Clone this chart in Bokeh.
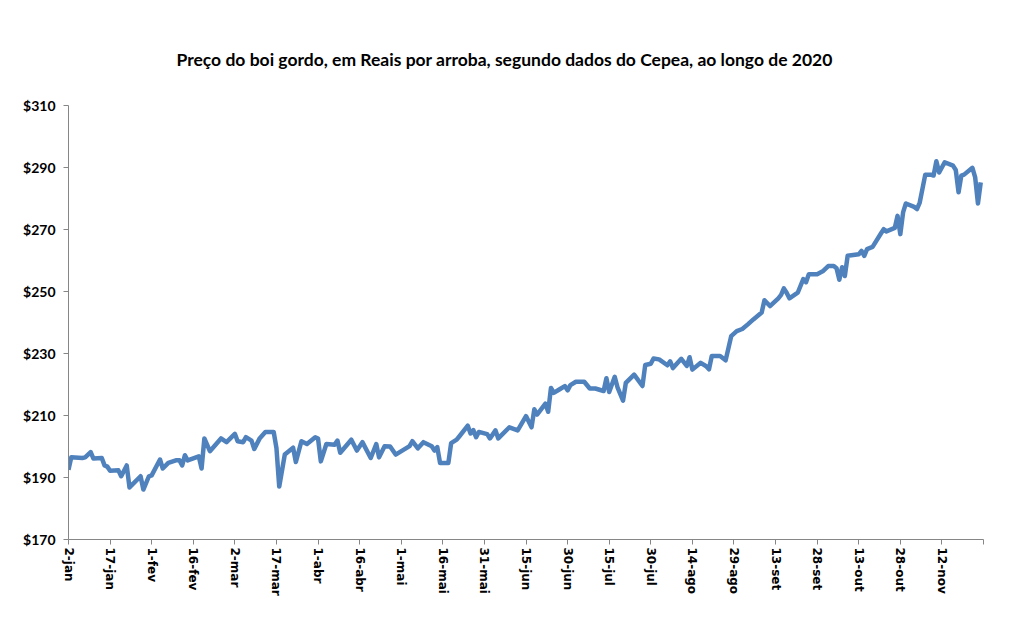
import pandas as pd
from bokeh.plotting import figure
from bokeh.models import Range1d, FixedTicker, PrintfTickFormatter, Title, ColumnDataSource
from bokeh.embed import file_html
from bokeh.resources import INLINE

title_text = "Preço do boi gordo, em Reais por arroba, segundo dados do Cepea, ao longo de 2020"

dates = [
    "2020-01-02", "2020-01-03", "2020-01-07", "2020-01-08", "2020-01-10", "2020-01-11",
    "2020-01-14", "2020-01-15", "2020-01-16", "2020-01-17", "2020-01-20", "2020-01-21",
    "2020-01-23", "2020-01-24", "2020-01-28", "2020-01-29", "2020-01-31",
    "2020-02-01", "2020-02-04", "2020-02-05", "2020-02-07", "2020-02-10", "2020-02-11",
    "2020-02-12", "2020-02-13", "2020-02-14", "2020-02-18", "2020-02-19", "2020-02-20",
    "2020-02-22", "2020-02-26", "2020-02-28",
    "2020-03-02", "2020-03-03", "2020-03-05", "2020-03-06", "2020-03-08", "2020-03-09",
    "2020-03-11", "2020-03-13", "2020-03-16", "2020-03-17", "2020-03-18", "2020-03-20",
    "2020-03-23", "2020-03-24", "2020-03-26", "2020-03-28", "2020-03-31",
    "2020-04-01", "2020-04-02", "2020-04-04", "2020-04-07", "2020-04-08", "2020-04-09",
    "2020-04-13", "2020-04-15", "2020-04-17", "2020-04-20", "2020-04-22", "2020-04-23",
    "2020-04-25", "2020-04-27", "2020-04-29",
    "2020-05-04", "2020-05-05", "2020-05-07", "2020-05-09", "2020-05-12", "2020-05-13",
    "2020-05-14", "2020-05-15", "2020-05-18", "2020-05-19", "2020-05-21", "2020-05-22",
    "2020-05-25", "2020-05-26", "2020-05-27", "2020-05-28", "2020-05-29",
    "2020-06-01", "2020-06-02", "2020-06-04", "2020-06-05", "2020-06-09", "2020-06-12",
    "2020-06-15", "2020-06-17", "2020-06-18", "2020-06-19", "2020-06-22", "2020-06-23",
    "2020-06-24", "2020-06-25", "2020-06-27", "2020-06-29", "2020-06-30",
    "2020-07-01", "2020-07-03", "2020-07-06", "2020-07-08", "2020-07-10", "2020-07-13",
    "2020-07-14", "2020-07-15", "2020-07-17", "2020-07-18", "2020-07-20", "2020-07-21",
    "2020-07-24", "2020-07-27", "2020-07-28", "2020-07-30", "2020-07-31",
    "2020-08-02", "2020-08-05", "2020-08-06", "2020-08-07", "2020-08-10", "2020-08-12",
    "2020-08-13", "2020-08-14", "2020-08-17", "2020-08-19", "2020-08-20", "2020-08-21",
    "2020-08-24", "2020-08-26", "2020-08-28", "2020-08-30",
    "2020-09-01", "2020-09-03", "2020-09-05", "2020-09-08", "2020-09-09", "2020-09-11",
    "2020-09-14", "2020-09-15", "2020-09-16", "2020-09-17", "2020-09-18", "2020-09-21",
    "2020-09-23", "2020-09-24", "2020-09-25", "2020-09-28", "2020-09-30",
    "2020-10-02", "2020-10-04", "2020-10-05", "2020-10-06", "2020-10-07", "2020-10-08",
    "2020-10-09", "2020-10-13", "2020-10-14", "2020-10-15", "2020-10-16", "2020-10-18",
    "2020-10-21", "2020-10-22", "2020-10-23", "2020-10-26", "2020-10-27", "2020-10-28",
    "2020-10-29", "2020-10-30",
    "2020-11-02", "2020-11-03", "2020-11-04", "2020-11-06", "2020-11-08", "2020-11-09",
    "2020-11-10", "2020-11-11", "2020-11-13", "2020-11-16", "2020-11-17", "2020-11-18",
    "2020-11-19", "2020-11-20", "2020-11-23", "2020-11-24", "2020-11-25", "2020-11-26",
]

prices = [
    192.5, 196.5, 196.3, 196.5, 198.2, 196.1,
    196.3, 193.9, 193.5, 192.2, 192.3, 190.4,
    193.9, 186.8, 190.4, 186.1, 190.4,
    190.7, 195.8, 192.9, 194.7, 195.6, 195.6,
    193.9, 197.2, 195.5, 196.8, 192.9, 202.6,
    198.5, 202.6, 201.4,
    204.1, 201.7, 201.4, 203.0, 201.9, 199.2,
    202.7, 204.7, 204.7, 199.5, 187.1, 197.4,
    199.6, 195.0, 201.7, 200.8, 203.0,
    202.6, 195.2, 200.8, 200.6, 201.9, 198.0,
    202.2, 198.7, 201.4, 196.3, 200.8, 196.5,
    200.1, 200.0, 197.4,
    200.1, 201.7, 199.4, 201.4, 200.1, 198.7,
    199.8, 194.7, 194.7, 201.1, 202.2, 203.3,
    206.7, 204.2, 205.3, 203.0, 204.7,
    204.0, 202.6, 205.2, 202.6, 206.2, 205.2,
    209.8, 206.2, 212.0, 210.3, 213.8, 211.2,
    218.9, 217.3, 218.4, 219.5, 218.1,
    219.8, 220.9, 220.9, 218.7, 218.7, 217.9,
    222.0, 217.6, 222.5, 219.1, 214.8, 220.5,
    223.2, 219.5, 226.3, 226.7, 228.4,
    228.1, 226.2, 227.5, 225.3, 228.3, 226.0,
    228.8, 224.8, 227.0, 225.9, 224.9, 229.2,
    229.2, 227.8, 235.6, 237.2,
    237.9, 239.4, 241.0, 243.2, 247.2, 245.3,
    247.8, 248.9, 251.0, 249.6, 247.8, 249.6,
    254.0, 253.0, 255.6, 255.6, 256.5,
    258.2, 258.2, 257.5, 253.8, 257.8, 255.0,
    261.5, 262.0, 263.1, 261.5, 263.7, 264.4,
    268.7, 270.1, 269.4, 270.5, 274.4, 268.5,
    275.5, 278.4,
    277.3, 276.6, 278.7, 287.7, 287.7, 287.4,
    292.0, 288.4, 291.7, 290.6, 289.2, 282.0,
    287.4, 287.7, 289.9, 286.8, 278.4, 285.2,
]

tick_dates = [
    "2020-01-02", "2020-01-17", "2020-02-01", "2020-02-16", "2020-03-02", "2020-03-17",
    "2020-04-01", "2020-04-16", "2020-05-01", "2020-05-16", "2020-05-31", "2020-06-15",
    "2020-06-30", "2020-07-15", "2020-07-30", "2020-08-14", "2020-08-29", "2020-09-13",
    "2020-09-28", "2020-10-13", "2020-10-28", "2020-11-12", "2020-11-27",
]
tick_labels = [
    "2-jan", "17-jan", "1-fev", "16-fev", "2-mar", "17-mar",
    "1-abr", "16-abr", "1-mai", "16-mai", "31-mai", "15-jun",
    "30-jun", "15-jul", "30-jul", "14-ago", "29-ago", "13-set",
    "28-set", "13-out", "28-out", "12-nov", "",
]
y_ticks = [170, 190, 210, 230, 250, 270, 290, 310]


def ms(d):
    return (pd.Timestamp(d) - pd.Timestamp("1970-01-01")) / pd.Timedelta(milliseconds=1)


src = ColumnDataSource(dict(x=pd.to_datetime(dates), y=prices))
tick_ms = [ms(d) for d in tick_dates]

p = figure(width=1013, height=632, x_axis_type="datetime", output_backend="svg",
           toolbar_location=None, title=None,
           x_range=Range1d(tick_ms[0], tick_ms[-1]), y_range=Range1d(y_ticks[0], y_ticks[-1]),
           min_border_left=68, min_border_right=30, min_border_top=105, min_border_bottom=93)

p.background_fill_color = "white"
p.border_fill_color = "white"
p.outline_line_color = None
p.xgrid.visible = False
p.ygrid.visible = False

axis_color = "#868686"

p.xaxis.ticker = FixedTicker(ticks=tick_ms)
p.xaxis.major_label_overrides = {t: lab for t, lab in zip(tick_ms, tick_labels)}
p.xaxis.major_label_orientation = "vertical"
p.xaxis.major_label_text_font = "DejaVu Sans"
p.xaxis.major_label_text_font_style = "bold"
p.xaxis.major_label_text_font_size = "12px"
p.xaxis.major_label_text_color = "black"
p.xaxis.major_label_standoff = 3
p.xaxis.axis_line_color = axis_color
p.xaxis.major_tick_line_color = axis_color
p.xaxis.major_tick_out = 5
p.xaxis.major_tick_in = 0
p.xaxis.minor_tick_line_color = None

p.yaxis.ticker = FixedTicker(ticks=y_ticks)
p.yaxis.formatter = PrintfTickFormatter(format="$%d")
p.yaxis.major_label_text_font = "Lato"
p.yaxis.major_label_text_font_style = "bold"
p.yaxis.major_label_text_font_size = "14px"
p.yaxis.major_label_text_color = "black"
p.yaxis.major_label_standoff = 8
p.yaxis.axis_line_color = axis_color
p.yaxis.major_tick_line_color = axis_color
p.yaxis.major_tick_out = 5
p.yaxis.major_tick_in = 0
p.yaxis.minor_tick_line_color = None

p.line("x", "y", source=src, line_color="#4F81BD", line_width=4.5, line_join="round")

p.add_layout(Title(text=title_text, align="left", offset=108, standoff=72,
                   text_font="Lato", text_font_style="bold", text_font_size="17.5px",
                   text_color="black"), "above")

open("out.html", "w").write(file_html(p, INLINE))
